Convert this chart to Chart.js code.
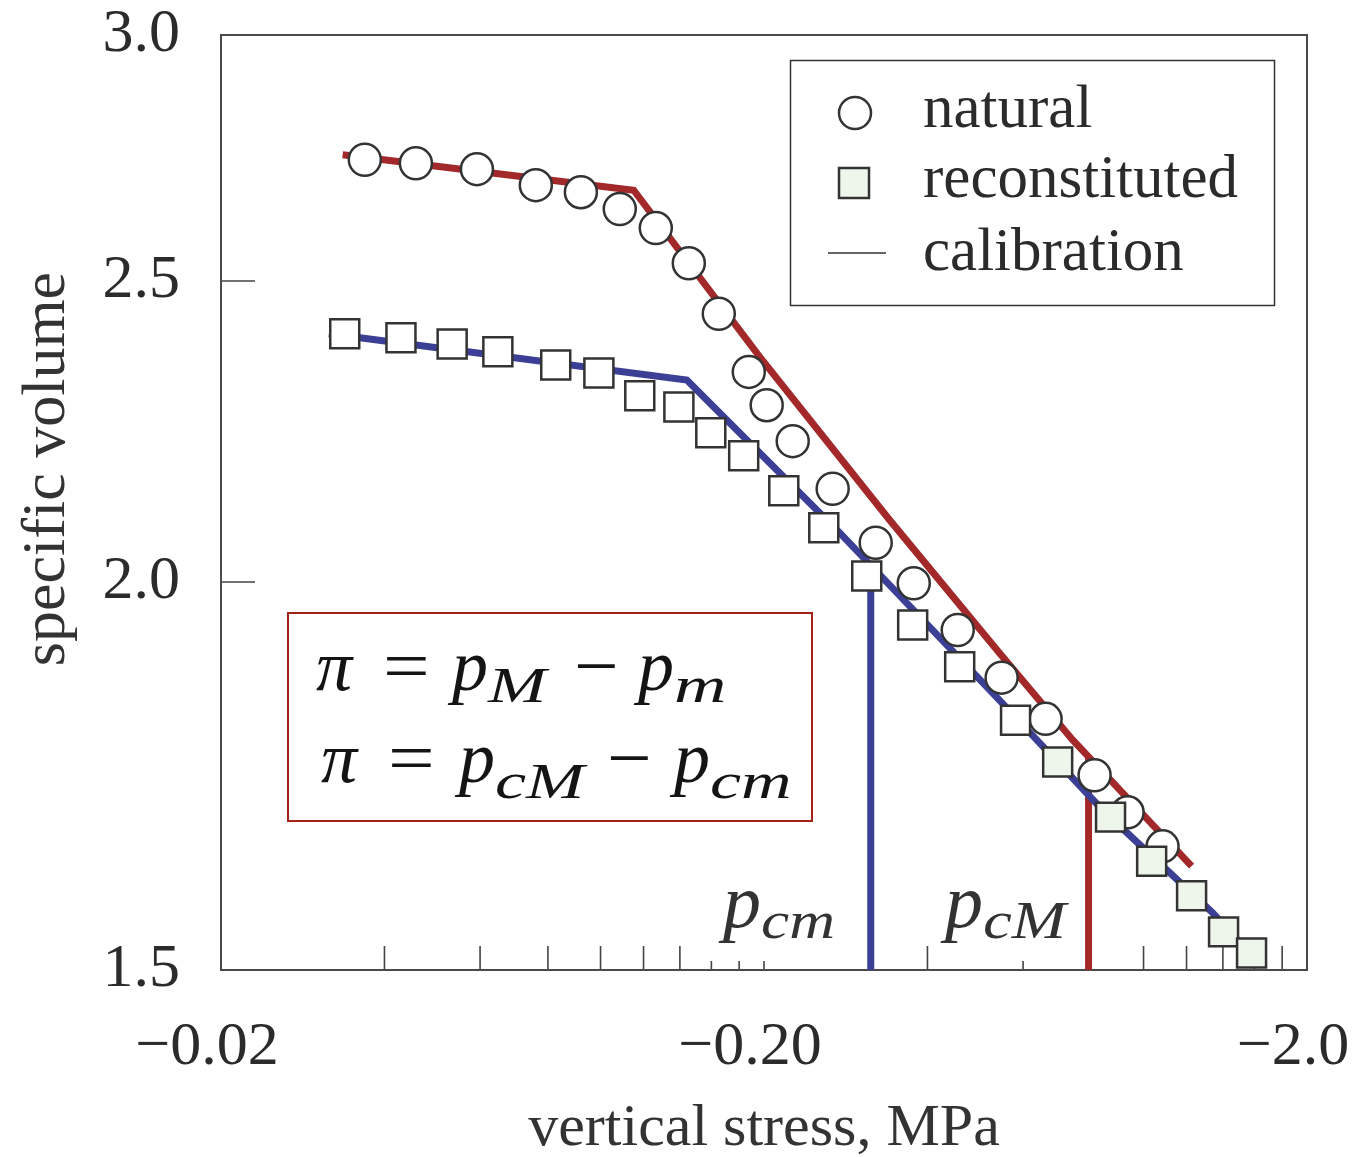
<!DOCTYPE html>
<html lang="en">
<head>
<meta charset="UTF-8">
<title>Specific volume vs vertical stress</title>
<script src="https://cdn.jsdelivr.net/npm/chart.js"></script>
<style>
  body { margin: 0; background: #fff; }
  canvas { display: block; }
</style>
</head>
<body>
<canvas id="chart" width="1357" height="1157"></canvas>
<script>
// stress magnitudes in MPa (the axis shows them as compression, i.e. negative)
const naturalStress = [0.0368, 0.0457, 0.0592, 0.0760, 0.0920, 0.1085, 0.1264, 0.1454, 0.1651, 0.1875, 0.2023,
                       0.2259, 0.2676, 0.3212, 0.3774, 0.4548, 0.5478, 0.6602, 0.8125, 0.9346, 1.084];
const naturalVolume = [2.735, 2.728, 2.716, 2.684, 2.670, 2.637, 2.600, 2.533, 2.440, 2.337, 2.280,
                       2.220, 2.143, 2.059, 1.998, 1.930, 1.863, 1.807, 1.733, 1.686, 1.644];

const reconStress = [0.0338, 0.0429, 0.0533, 0.0647, 0.0827, 0.0993, 0.1181, 0.1394, 0.1596, 0.1835, 0.2175,
                     0.2577, 0.3092, 0.3757, 0.4586, 0.5812, 0.6948, 0.8694, 1.035, 1.226, 1.404, 1.581];
const reconVolume = [2.404, 2.397, 2.386, 2.372, 2.349, 2.335, 2.296, 2.277, 2.234, 2.196, 2.140,
                     2.082, 2.009, 1.937, 1.878, 1.805, 1.750, 1.680, 1.626, 1.585, 1.543, 1.519];

// model calibration curves
const calNaturalStress = [0.0335, 0.1151, 0.1964, 0.3407, 0.5433, 0.7404, 1.226];
const calNaturalVolume = [2.745, 2.674, 2.363, 2.094, 1.897, 1.779, 1.620];
const calReconStress = [0.0316, 0.1442, 0.2758, 0.5433, 0.8404, 1.340, 1.535];
const calReconVolume = [2.404, 2.323, 2.074, 1.832, 1.689, 1.565, 1.525];

// preconsolidation pressures p_cm and p_cM
const pcmStress = [0.3145, 0.3145];
const pcmVolume = [1.5, 2.025];
const pcMStress = [0.792, 0.792];
const pcMVolume = [1.5, 1.757];

const xLabelValues = [0.02, 0.2, 2.0];
const xLabelText = ['\u22120.02', '\u22120.20', '\u22122.0'];
const xLongTicks = [0.04, 0.06, 0.08, 0.10, 0.12, 0.14, 0.4, 0.8, 1.0, 1.2, 1.4, 1.6, 1.8];
const xShortTicks = [0.16, 0.18, 0.20, 0.6];
const yTickValues = [1.5, 2.0, 2.5, 3.0];

const SERIF = '"Liberation Serif", "Times New Roman", serif';
const INK = '#2b2b2b';
const RED = '#a3282a';
const BLUE = '#3b3f96';
const GREEN_FILL = '#eef6ec';

Chart.defaults.font.family = SERIF;

const pts = (xs, ys) => xs.map((x, i) => ({ x, y: ys[i] }));

// marker fill turns pale green for the high-stress reconstituted points
const reconFill = reconStress.map((_, i) => (i >= 16 ? GREEN_FILL : '#ffffff'));

function drawSquare(ctx, cx, cy, side, fill) {
  ctx.fillStyle = fill;
  ctx.fillRect(cx - side / 2, cy - side / 2, side, side);
  ctx.strokeRect(cx - side / 2, cy - side / 2, side, side);
}

// writes pieces one after another; a piece is
// [text, size, italic, baselineShift, absoluteX, horizontalStretch]
function mathLine(ctx, pieces, baseline) {
  let x = 0;
  pieces.forEach(([txt, size, it, shift, at, sx]) => {
    if (at) x = at;
    sx = sx || 1;
    ctx.font = (it ? 'italic ' : '') + size + 'px ' + SERIF;
    ctx.save();
    ctx.translate(x, baseline + (shift || 0));
    ctx.scale(sx, 1);
    ctx.fillText(txt, 0, 0);
    ctx.restore();
    x += ctx.measureText(txt).width * sx;
  });
}

const decor = {
  id: 'decor',
  beforeDatasetsDraw(chart) {
    const { ctx, chartArea: a, scales: { x, y } } = chart;
    ctx.save();
    ctx.strokeStyle = '#444';
    ctx.lineWidth = 1.6;
    ctx.beginPath();
    xLongTicks.forEach(v => {
      const px = x.getPixelForValue(v);
      ctx.moveTo(px, a.bottom); ctx.lineTo(px, a.bottom - 24);
    });
    xShortTicks.forEach(v => {
      const px = x.getPixelForValue(v);
      ctx.moveTo(px, a.bottom); ctx.lineTo(px, a.bottom - 9);
    });
    yTickValues.forEach(v => {
      const py = y.getPixelForValue(v);
      ctx.moveTo(a.left, py); ctx.lineTo(a.left + 34, py);
    });
    ctx.stroke();
    ctx.lineWidth = 2;
    ctx.strokeStyle = '#4a4a4a';
    ctx.strokeRect(a.left, a.top, a.right - a.left, a.bottom - a.top);
    ctx.restore();
  },
  afterDatasetsDraw(chart) {
    const { ctx, chartArea: a } = chart;
    ctx.save();

    // axis titles
    ctx.fillStyle = '#333';
    ctx.font = '60px ' + SERIF;
    ctx.textAlign = 'center';
    ctx.textBaseline = 'alphabetic';
    ctx.fillText('vertical stress, MPa', (a.left + a.right) / 2, 1145);
    ctx.save();
    ctx.translate(64, 469);
    ctx.rotate(-Math.PI / 2);
    ctx.font = '62px ' + SERIF;
    ctx.fillText('specific volume', 0, 0);
    ctx.restore();

    // legend
    ctx.textAlign = 'left';
    ctx.strokeStyle = '#333';
    ctx.lineWidth = 1.5;
    ctx.strokeRect(790.5, 60.5, 484, 245);
    const nat = chart.data.datasets[1], rec = chart.data.datasets[0];
    ctx.lineWidth = nat.borderWidth;
    ctx.strokeStyle = nat.borderColor;
    ctx.fillStyle = '#fff';
    ctx.beginPath();
    ctx.arc(855, 113, nat.pointRadius, 0, Math.PI * 2);
    ctx.fill(); ctx.stroke();
    ctx.lineWidth = rec.borderWidth;
    drawSquare(ctx, 854, 183, 30, GREEN_FILL);
    ctx.lineWidth = 1.5;
    ctx.strokeStyle = '#333';
    ctx.beginPath();
    ctx.moveTo(828, 253); ctx.lineTo(886, 253);
    ctx.stroke();
    ctx.fillStyle = INK;
    ctx.font = '61px ' + SERIF;
    ctx.fillText(nat.label, 923, 127);
    ctx.fillText(rec.label, 923, 197);
    ctx.fillText('calibration', 923, 270);

    // relation box
    ctx.strokeStyle = '#a3231b';
    ctx.lineWidth = 2;
    ctx.strokeRect(288, 613, 524, 208);
    ctx.fillStyle = '#141414';
    mathLine(ctx, [
      ['\u03c0', 72, true, 0, 316], ['=', 72, false, 0, 383, 1.15],
      ['p', 72, true, 0, 452], ['M', 50, true, 12, 0, 1.4],
      ['\u2212', 72, false, 0, 574, 1.1], ['p', 72, true, 0, 638], ['m', 50, true, 12, 0, 1.45]
    ], 690);
    mathLine(ctx, [
      ['\u03c0', 72, true, 0, 321], ['=', 72, false, 0, 388, 1.15],
      ['p', 72, true, 0, 459], ['cM', 50, true, 16, 0, 1.4],
      ['\u2212', 72, false, 0, 607, 1.1], ['p', 72, true, 0, 674], ['cm', 50, true, 16, 0, 1.4]
    ], 782);

    // pressure labels next to the vertical markers
    ctx.fillStyle = '#333';
    mathLine(ctx, [['p', 76, true, 0, 723], ['cm', 52, true, 11, 0, 1.22]], 927);
    mathLine(ctx, [['p', 76, true, 0, 945], ['cM', 52, true, 11, 0, 1.25]], 927);
    ctx.restore();
  }
};

new Chart(document.getElementById('chart'), {
  type: 'scatter',
  data: {
    datasets: [
      {
        label: 'reconstituted',
        data: pts(reconStress, reconVolume),
        pointStyle: 'rect',
        pointRadius: 20.5,
        backgroundColor: reconFill,
        borderColor: '#333',
        borderWidth: 2.5,
        order: 0
      },
      {
        label: 'natural',
        data: pts(naturalStress, naturalVolume),
        pointStyle: 'circle',
        pointRadius: 16,
        backgroundColor: '#fff',
        borderColor: '#333',
        borderWidth: 2.5,
        order: 1
      },
      {
        label: 'calibration natural',
        data: pts(calNaturalStress, calNaturalVolume),
        showLine: true,
        pointRadius: 0,
        borderColor: RED,
        borderWidth: 7,
        order: 2
      },
      {
        label: 'calibration reconstituted',
        data: pts(calReconStress, calReconVolume),
        showLine: true,
        pointRadius: 0,
        borderColor: BLUE,
        borderWidth: 7,
        order: 3
      },
      {
        label: 'p_cm',
        data: pts(pcmStress, pcmVolume),
        showLine: true,
        pointRadius: 0,
        borderColor: BLUE,
        borderWidth: 7,
        order: 4
      },
      {
        label: 'p_cM',
        data: pts(pcMStress, pcMVolume),
        showLine: true,
        pointRadius: 0,
        borderColor: RED,
        borderWidth: 7,
        order: 4
      }
    ]
  },
  options: {
    responsive: false,
    animation: false,
    layout: { padding: { top: 35, right: 50, left: 0, bottom: 0 } },
    plugins: { legend: { display: false }, tooltip: { enabled: false } },
    scales: {
      x: {
        type: 'logarithmic',
        min: 0.02,
        max: 2.0,
        grid: { display: false },
        border: { display: false },
        afterBuildTicks: s => { s.ticks = xLabelValues.map(v => ({ value: v })); },
        afterFit: s => { s.height = 187; s.paddingLeft = 0; s.paddingRight = 0; },
        ticks: {
          autoSkip: false,
          maxRotation: 0,
          padding: 33,
          labelOffset: -14,
          color: INK,
          font: { size: 62 },
          callback: (v, i) => xLabelText[i]
        }
      },
      y: {
        type: 'logarithmic',
        min: 1.5,
        max: 3.0,
        grid: { display: false },
        border: { display: false },
        afterBuildTicks: s => { s.ticks = yTickValues.map(v => ({ value: v })); },
        afterFit: s => { s.width = 221; s.paddingTop = 0; s.paddingBottom = 0; },
        ticks: {
          autoSkip: false,
          padding: 33,
          color: INK,
          font: { size: 62 },
          callback: v => Number(v).toFixed(1)
        }
      }
    }
  },
  plugins: [decor]
});
</script>
</body>
</html>
